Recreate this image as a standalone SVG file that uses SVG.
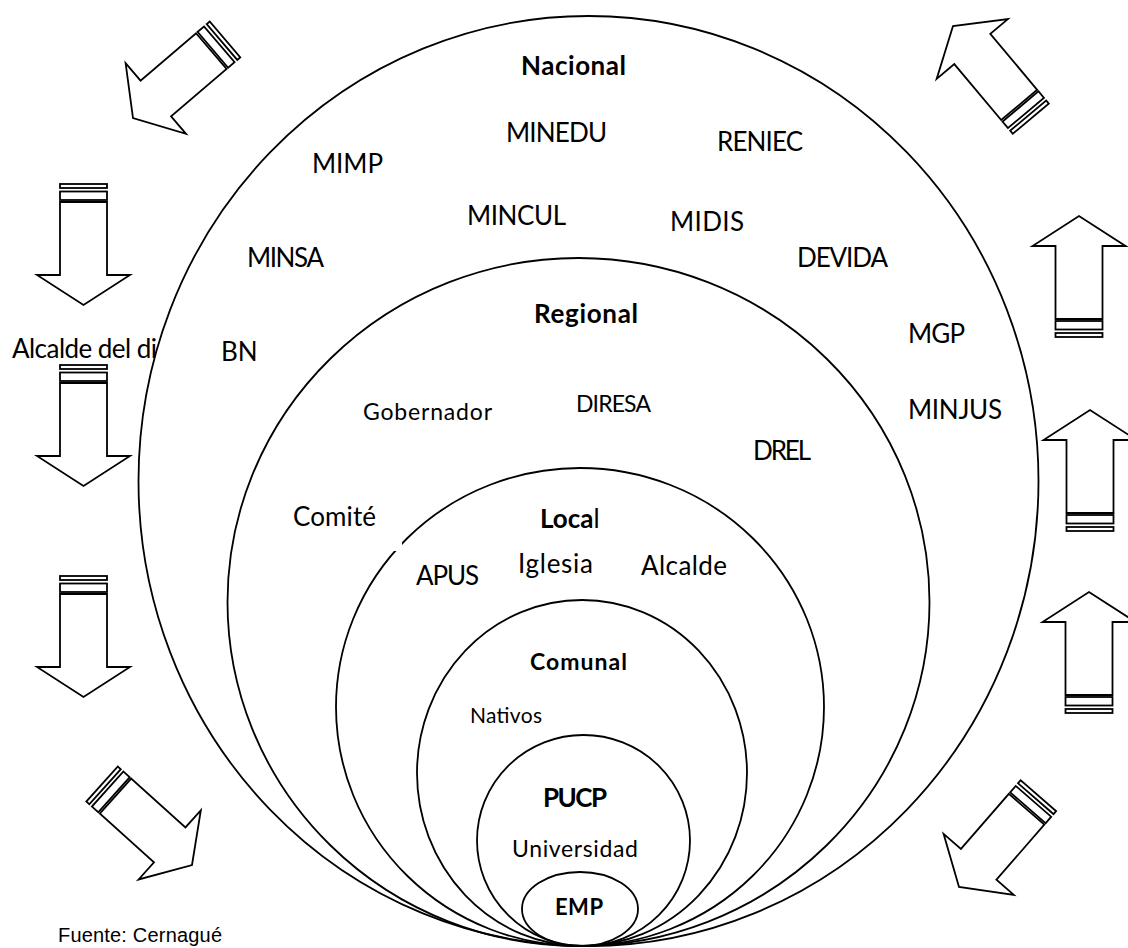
<svg xmlns="http://www.w3.org/2000/svg" xmlns:xlink="http://www.w3.org/1999/xlink" width="1128" height="948" viewBox="0 0 1128 948">
<style>
.ring{fill:none;stroke:#000;stroke-width:1.8}
.t{font-family:Lato,'Open Sans',sans-serif;font-size:26px;fill:#000}
.b{font-weight:bold}
.s{font-size:23px}
.ar{fill:#fff;stroke:#000;stroke-width:1.8;stroke-linejoin:miter}
.src{font-family:'Liberation Sans',Arial,sans-serif;font-size:20px;fill:#000}
</style>
<defs>
<g id="sarrow">
<rect class="ar" x="-23.5" y="0" width="47" height="4"/>
<rect class="ar" x="-23.5" y="7.5" width="47" height="8.5"/>
<path class="ar" d="M -23.5 18 H 23.5 V 91 H 46.5 L 0 121 L -46.5 91 H -23.5 Z"/>
</g>
</defs>
<rect width="1128" height="948" fill="#fff"/>

<g id="arrows">
<use xlink:href="#sarrow" transform="translate(83.5,184)"/>
<use xlink:href="#sarrow" transform="translate(83.5,365)"/>
<use xlink:href="#sarrow" transform="translate(83.5,576)"/>
<use xlink:href="#sarrow" transform="translate(1079,337) rotate(180)"/>
<use xlink:href="#sarrow" transform="translate(1090,531) rotate(180)"/>
<use xlink:href="#sarrow" transform="translate(1089,713) rotate(180)"/>
<use xlink:href="#sarrow" transform="translate(133,118) rotate(49.5) translate(0,-121)"/>
<use xlink:href="#sarrow" transform="translate(953,26) rotate(140) translate(0,-121)"/>
<use xlink:href="#sarrow" transform="translate(192,865) rotate(-48) translate(0,-121)"/>
<use xlink:href="#sarrow" transform="translate(959,887) rotate(41) translate(0,-121)"/>
</g>

<g id="nacional">
<ellipse class="ring" cx="588.5" cy="481" rx="450" ry="465"/>
<text class="t b" x="521" y="75" textLength="105">Nacional</text>
<text class="t" x="506" y="142" textLength="101">MINEDU</text>
<text class="t" x="717" y="151" textLength="86">RENIEC</text>
<text class="t" x="312" y="173" textLength="71">MIMP</text>
<text class="t" x="467" y="225" textLength="99">MINCUL</text>
<text class="t" x="670" y="231" textLength="74">MIDIS</text>
<text class="t" x="247" y="267" textLength="77">MINSA</text>
<text class="t" x="797" y="267" textLength="91">DEVIDA</text>
<text class="t" x="908" y="343" textLength="57">MGP</text>
<text class="t" x="221" y="361">BN</text>
<text class="t" x="908" y="419" textLength="94">MINJUS</text>
</g>

<g id="regional">
<ellipse class="ring" cx="578.5" cy="602" rx="351" ry="344"/>
<text class="t b" x="534" y="323" textLength="104">Regional</text>
<text class="t s" x="363" y="420" textLength="129">Gobernador</text>
<text class="t s" x="576" y="412" textLength="75">DIRESA</text>
<text class="t" x="753" y="460" textLength="58">DREL</text>
<text class="t" x="293" y="526" textLength="83">Comité</text>
</g>

<g id="local">
<ellipse class="ring" cx="580" cy="707" rx="244" ry="239"/>
<rect x="394" y="542" width="8" height="9" fill="#fff"/>
<text class="t" x="540" y="528"><tspan class="b">Loca</tspan>l</text>
<text class="t" x="416" y="585" textLength="63">APUS</text>
<text class="t" x="518" y="573" textLength="75">Iglesia</text>
<text class="t" x="641" y="575" textLength="86">Alcalde</text>
</g>

<g id="comunal">
<ellipse class="ring" cx="582" cy="773" rx="165" ry="173"/>
<text class="t b s" x="530" y="670" textLength="97">Comunal</text>
<text class="t" x="470" y="723" textLength="72" style="font-size:21px">Nativos</text>
</g>

<g id="pucp">
<ellipse class="ring" cx="583.5" cy="840.5" rx="106.5" ry="105.5"/>
<text class="t b" x="543" y="807" textLength="64">PUCP</text>
<text class="t s" x="512" y="857" textLength="126">Universidad</text>
</g>

<g id="emp">
<ellipse class="ring" cx="580" cy="909" rx="58" ry="37"/>
<text class="t b" x="555" y="915" textLength="48" style="font-size:22px">EMP</text>
</g>

<text class="t" x="12" y="358" textLength="145">Alcalde del di</text>
<text class="src" x="58" y="942" textLength="164">Fuente: Cernagué</text>
</svg>
